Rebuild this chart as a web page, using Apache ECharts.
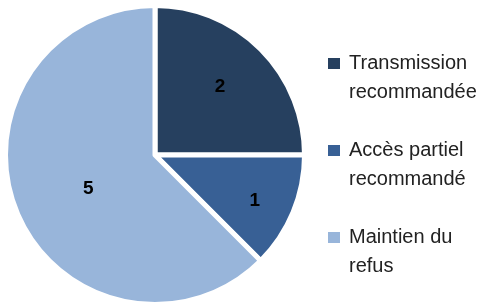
<!DOCTYPE html>
<html>
<head>
<meta charset="utf-8">
<script src="https://cdn.jsdelivr.net/npm/echarts@6/dist/echarts.min.js"></script>
<style>html,body{margin:0;padding:0;background:#fff;}#c{width:481px;height:303px;}</style>
</head>
<body>
<div id="c"></div>
<script>
const categories = ['Transmission\nrecommandée', 'Accès partiel\nrecommandé', 'Maintien du\nrefus'];
const values = [2, 1, 5];
const colors = ['#26405f', '#386095', '#98b5da'];
const labelShift = [[10, -13], [28, 16], [5, 4]];

const chart = echarts.init(document.getElementById('c'), null, {renderer: 'canvas'});
chart.setOption({
  animation: false,
  backgroundColor: '#ffffff',
  color: colors,
  legend: {
    orient: 'vertical',
    left: 321,
    top: 43,
    itemWidth: 14,
    itemHeight: 58,
    itemGap: 27,
    icon: 'path://M0,8H14V21H0Z M0,0 M14,58',
    selectedMode: false,
    data: categories,
    textStyle: {
      fontFamily: 'Liberation Sans',
      fontSize: 20,
      color: '#222222',
      lineHeight: 29,
      padding: [0, 0, 0, 3]
    }
  },
  series: [{
    type: 'pie',
    center: [155, 155],
    radius: 149.5,
    startAngle: 90,
    clockwise: true,
    silent: true,
    itemStyle: {borderColor: '#ffffff', borderWidth: 5},
    label: {
      show: true,
      position: 'inside',
      formatter: '{c}',
      fontFamily: 'Liberation Sans',
      fontWeight: 'bold',
      fontSize: 19,
      color: '#000000'
    },
    labelLine: {show: false},
    labelLayout: function (p) {
      const s = labelShift[p.dataIndex];
      return {dx: s[0], dy: s[1]};
    },
    data: categories.map((n, i) => ({name: n, value: values[i]}))
  }]
});
</script>
</body>
</html>
